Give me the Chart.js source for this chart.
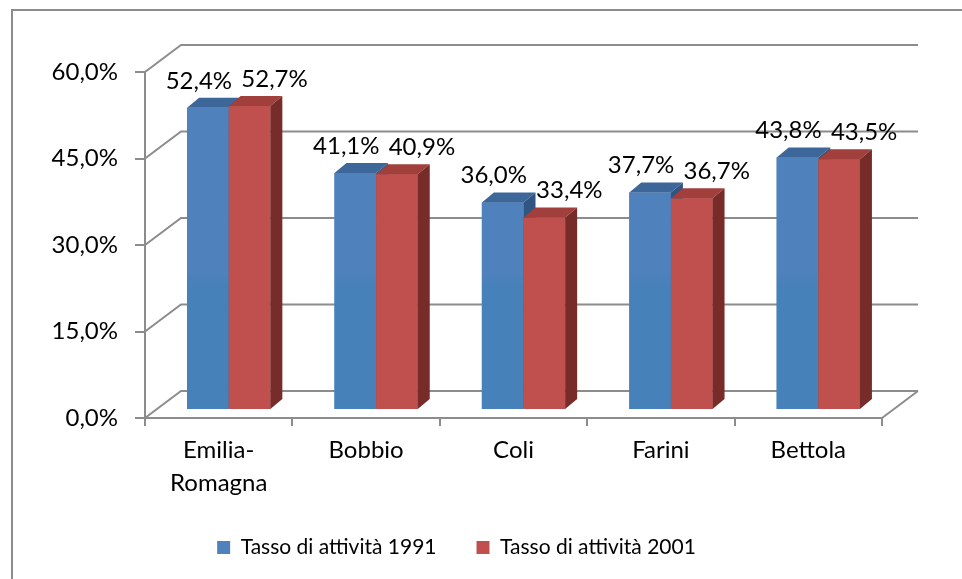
<!DOCTYPE html>
<html>
<head>
<meta charset="utf-8">
<script src="https://cdn.jsdelivr.net/npm/chart.js@4.4.0/dist/chart.umd.min.js"></script>
<style>
  html, body { margin: 0; padding: 0; background: #fff; overflow: hidden; width: 962px; height: 579px; }
  #frame { position: absolute; left: 11px; top: 9px; width: 1000px; height: 620px; border: 2px solid #8c8c8c; box-sizing: border-box; }
  #wrap { position: absolute; left: -6px; top: 0; width: 926px; height: 568px; }
</style>
</head>
<body>
<div id="frame"></div>
<div id="wrap"><canvas id="chart"></canvas></div>
<script>
// ===== Dati =====
const comuni = [['Emilia-', 'Romagna'], 'Bobbio', 'Coli', 'Farini', 'Bettola'];
const tasso1991 = [52.4, 41.1, 36.0, 37.7, 43.8];
const tasso2001 = [52.7, 40.9, 33.4, 36.7, 43.5];
const serie = ['Tasso di attività 1991', 'Tasso di attività 2001'];
const yTicks = [0, 15, 30, 45, 60];

const FONT = 'Lato';
const GRID = '#8c8c8c';

// finto 3D: pareti, spostamento delle barre, profondità delle barre
const WALL_DX = 36, WALL_DY = 27;
const SHIFT_X = 10, SHIFT_Y = -8;
const DEPTH_X = 12, DEPTH_Y = 10;

const colori = [
  { front: '#4F81BD', low: '#4681B9', top: '#3D6699', side: '#2F5580' },
  { front: '#C0504D', low: '#C0504D', top: '#A03F3C', side: '#772C2A' }
];

const pct = v => v.toFixed(1).replace('.', ',') + '%';

// ===== Plugin pareti + barre 3D =====
const bar3d = {
  id: 'bar3d',
  beforeDatasetsDraw(chart) {
    const { ctx, chartArea: a, scales: { y } } = chart;
    ctx.save();
    ctx.strokeStyle = GRID;
    ctx.lineWidth = 2;
    ctx.beginPath();
    y.ticks.forEach(t => {
      const py = y.getPixelForValue(t.value);
      ctx.moveTo(a.left, py);
      ctx.lineTo(a.left + WALL_DX, py - WALL_DY);
      ctx.lineTo(a.right + WALL_DX, py - WALL_DY);
    });
    ctx.moveTo(a.right, a.bottom);
    ctx.lineTo(a.right + WALL_DX, a.bottom - WALL_DY);
    ctx.stroke();
    ctx.restore();

    ctx.save();
    ctx.translate(SHIFT_X, SHIFT_Y);
  },
  afterDatasetsDraw(chart) {
    const { ctx, chartArea: a } = chart;
    const metas = chart.data.datasets.map((d, i) => chart.getDatasetMeta(i));
    comuni.forEach((c, i) => {
      metas.forEach((meta, d) => {
        const b = meta.data[i];
        const col = colori[d];
        const l = b.x - b.width / 2, r = b.x + b.width / 2;
        const g = ctx.createLinearGradient(0, a.top, 0, a.bottom);
        g.addColorStop(0, col.front);
        g.addColorStop(0.6, col.front);
        g.addColorStop(0.65, col.low);
        g.addColorStop(1, col.low);
        ctx.fillStyle = g;
        ctx.fillRect(l, b.y, b.width, b.base - b.y);
        ctx.fillStyle = col.top;
        ctx.beginPath();
        ctx.moveTo(l, b.y);
        ctx.lineTo(l + DEPTH_X, b.y - DEPTH_Y);
        ctx.lineTo(r + DEPTH_X, b.y - DEPTH_Y);
        ctx.lineTo(r, b.y);
        ctx.closePath();
        ctx.fill();
        ctx.fillStyle = col.side;
        ctx.beginPath();
        ctx.moveTo(r, b.y);
        ctx.lineTo(r + DEPTH_X, b.y - DEPTH_Y);
        ctx.lineTo(r + DEPTH_X, b.base - DEPTH_Y);
        ctx.lineTo(r, b.base);
        ctx.closePath();
        ctx.fill();
      });
    });
    // etichette dei valori
    ctx.fillStyle = '#000';
    ctx.font = '24px ' + FONT;
    ctx.textAlign = 'center';
    ctx.textBaseline = 'middle';
    metas.forEach((meta, d) => {
      const vals = chart.data.datasets[d].data;
      meta.data.forEach((b, i) => {
        ctx.fillText(pct(vals[i]), b.x + (d === 0 ? -9 : 25), b.y - 27);
      });
    });
    ctx.restore();
  }
};

const ctx = document.getElementById('chart').getContext('2d');
new Chart(ctx, {
  type: 'bar',
  data: {
    labels: comuni,
    datasets: [
      { label: serie[0], data: tasso1991, backgroundColor: colori[0].front },
      { label: serie[1], data: tasso2001, backgroundColor: colori[1].front }
    ]
  },
  options: {
    responsive: true,
    maintainAspectRatio: false,
    animation: false,
    categoryPercentage: 0.565,
    barPercentage: 1,
    layout: { padding: { top: 72, right: 38, bottom: 0, left: 37 } },
    plugins: {
      tooltip: { enabled: false },
      legend: {
        position: 'bottom',
        labels: {
          boxWidth: 13,
          boxHeight: 13,
          padding: 40,
          color: '#000',
          font: { family: FONT, size: 21 }
        }
      }
    },
    scales: {
      x: {
        afterFit: s => { s.height = 79; },
        grid: { drawOnChartArea: false, color: GRID, lineWidth: 2, tickLength: 8 },
        border: { color: GRID, width: 2 },
        ticks: { color: '#000', padding: 7, maxRotation: 0, font: { family: FONT, size: 24, lineHeight: 1.4 } }
      },
      y: {
        min: yTicks[0],
        max: yTicks[yTicks.length - 1],
        afterFit: s => { s.width = 114; },
        grid: { drawOnChartArea: false, color: GRID, lineWidth: 2, tickLength: 10 },
        border: { color: GRID, width: 2 },
        ticks: {
          stepSize: yTicks[1] - yTicks[0],
          padding: 17,
          color: '#000',
          font: { family: FONT, size: 24 },
          callback: v => pct(v)
        }
      }
    }
  },
  plugins: [bar3d]
});
</script>
</body>
</html>
